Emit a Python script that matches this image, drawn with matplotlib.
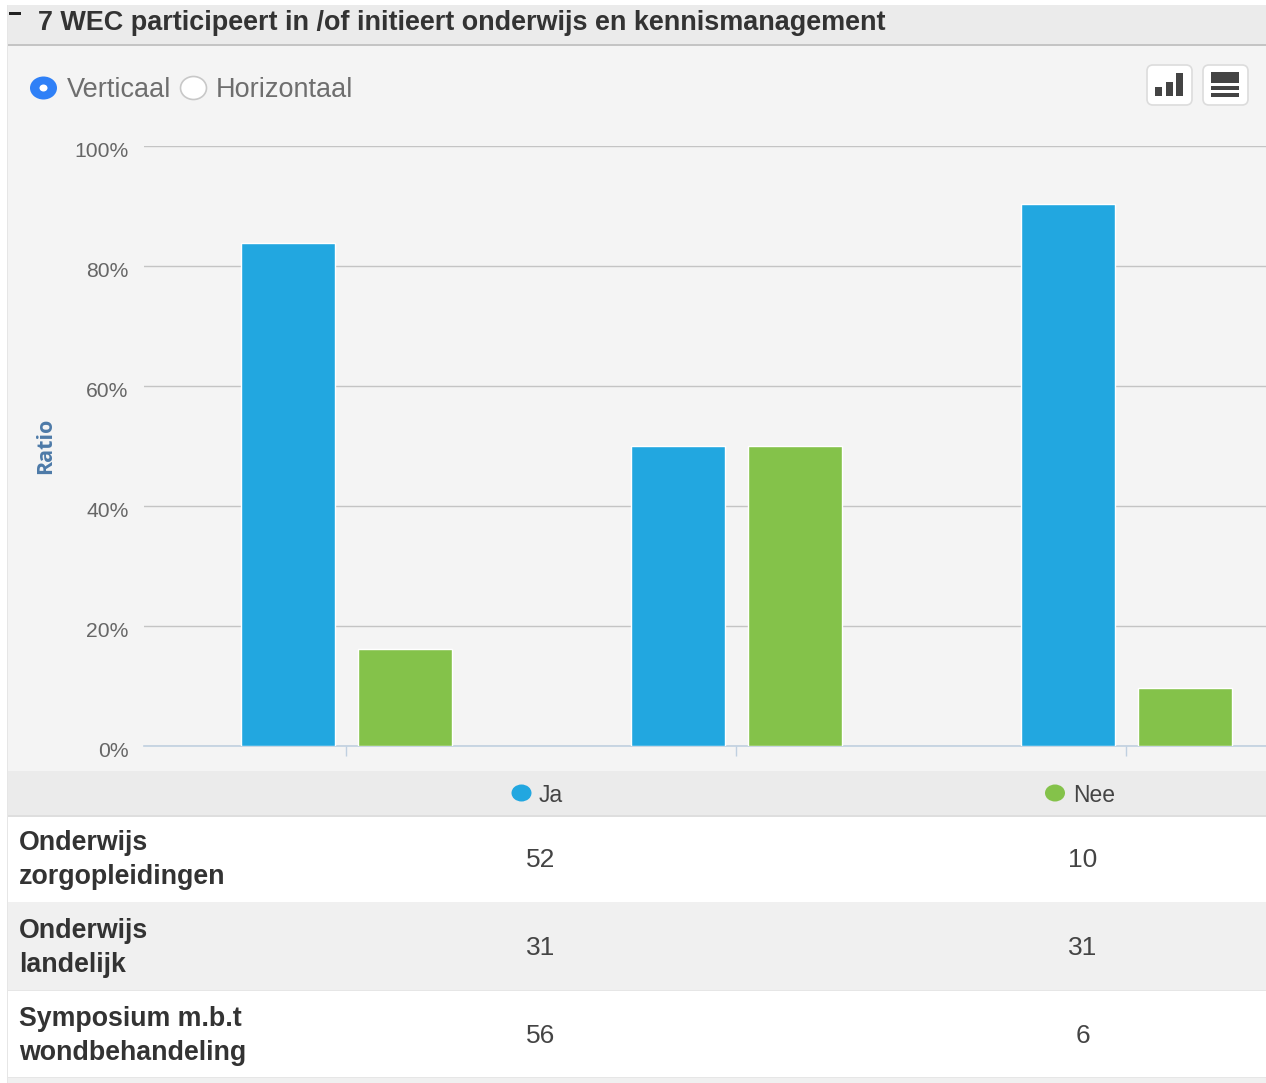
import numpy as np
import matplotlib
matplotlib.use("Agg")
import matplotlib.pyplot as plt
from matplotlib.patches import Rectangle, FancyBboxPatch, Ellipse
from matplotlib.transforms import ScaledTranslation

W = 1266
H = 1083

# Data
categories = ["Onderwijs\nzorgopleidingen", "Onderwijs\nlandelijk", "Symposium m.b.t\nwondbehandeling"]
ja = np.array([52, 31, 56])
nee = np.array([10, 31, 6])
ytick_values = [0, 20, 40, 60, 80, 100]
title = "7 WEC participeert in /of initieert onderwijs en kennismanagement"

plt.rcParams["font.family"] = ["Liberation Sans", "DejaVu Sans"]

fig = plt.figure(figsize=(W / 100, H / 100), dpi=100, facecolor="white")

# Background axes in pixels, for the page around the chart
bg = fig.add_axes([0, 0, 1, 1], zorder=0)
bg.set_xlim(0, W)
bg.set_ylim(H, 0)
bg.axis("off")


def box(x0, y0, x1, y1, color):
    bg.add_patch(Rectangle((x0, y0), x1 - x0, y1 - y0, fc=color, ec="none"))


box(7, 5, W, 1083, "#e6e6e6")
box(8, 45, W, 771, "#f4f4f4")
box(8, 5, W, 45, "#ebebeb")
box(8, 44, W, 46, "#c4c4c4")
box(8, 771, W, 815, "#ebebeb")
box(8, 815, W, 817, "#dedede")
box(8, 817, W, 902, "white")
box(8, 902, W, 990, "#f0f0f0")
box(8, 991, W, 1077, "white")
box(8, 1078, W, H, "#f0f0f0")
box(9, 12, 21, 15, "#222222")

bg.text(38, 23.5, title, fontsize=19.46, fontweight="bold", color="#333333", va="center")

# Radio buttons
bg.add_patch(Ellipse((43.5, 88), 27, 23, fc="#2f80f7", ec="none"))
bg.add_patch(Ellipse((43.5, 88), 8, 7, fc="white", ec="none"))
bg.add_patch(Ellipse((193.5, 88), 26, 23, fc="white", ec="#c8c8c8", lw=1.2))
bg.text(67, 90, "Verticaal", fontsize=19.5, color="#6e6e6e", va="center")
bg.text(216, 90, "Horizontaal", fontsize=19.5, color="#6e6e6e", va="center")

# Icon buttons
for x0 in [1147, 1203]:
    bg.add_patch(FancyBboxPatch((x0 + 3, 68), 39, 34, boxstyle="round,pad=3,rounding_size=6",
                                fc="white", ec="#dcdcdc", lw=1.2))
for x0, y0 in [(1155, 87), (1166, 82), (1176, 73)]:
    box(x0, y0, x0 + 7, 96, "#444444")
box(1211, 72, 1239, 83, "#444444")
box(1211, 86, 1239, 90, "#444444")
box(1211, 93, 1239, 97, "#444444")

# Legend band and table
bg.add_patch(Ellipse((521.5, 793), 20, 17, fc="#22a7e0", ec="none"))
bg.add_patch(Ellipse((1055, 793), 20, 17, fc="#84c24a", ec="none"))
bg.text(539, 795, "Ja", fontsize=16.5, color="#444444", va="center")
bg.text(1073, 795, "Nee", fontsize=16.5, color="#444444", va="center")

row_tops = [859, 947, 1035]
for y, cat, a, b in zip(row_tops, categories, ja, nee):
    first, second = cat.split("\n")
    bg.text(19, y - 16, first, fontsize=19.3, fontweight="bold", color="#333333", va="center")
    bg.text(19, y + 18, second, fontsize=19.3, fontweight="bold", color="#333333", va="center")
    bg.text(541, y + 1, str(a), fontsize=19, color="#444444", va="center", ha="center")
    bg.text(1083, y + 1, str(b), fontsize=19, color="#444444", va="center", ha="center")

# Chart axes
ax = fig.add_axes([144 / W, 1 - 746 / H, (W - 144) / W, 600 / H], zorder=1)
ax.patch.set_alpha(0)

band = 390.0
x = np.arange(len(categories))
bar_w = 94 / band
offset = 58.5 / band
total = ja + nee

ax.bar(x - offset, ja / total * 100, bar_w, color="#22a7e0", edgecolor="white", linewidth=1, zorder=3)
ax.bar(x + offset, nee / total * 100, bar_w, color="#84c24a", edgecolor="white", linewidth=1, zorder=3)

ax.set_xlim((144 - 346) / band, (W - 346) / band)
ax.set_ylim(0, 100)
ax.set_yticks(ytick_values)
ax.set_yticklabels([f"{v}%" for v in ytick_values], fontsize=15.2, color="#666666", va="top")
ax.tick_params(axis="y", length=0, pad=11)
shift = ScaledTranslation(0, 4 / 100, fig.dpi_scale_trans)
for label in ax.get_yticklabels():
    label.set_transform(label.get_transform() + shift)
ax.set_xticks(x)
ax.set_xticklabels([])
ax.tick_params(axis="x", length=7, color="#c0d0e0", width=1)
ax.grid(axis="y", color="#c4c4c4", linewidth=1.0, zorder=0)
ax.set_axisbelow(True)
for s in ["top", "right", "left"]:
    ax.spines[s].set_visible(False)
ax.spines["bottom"].set_color("#c0d0e0")
ax.spines["bottom"].set_linewidth(1.2)

bg.text(46, 446, "Ratio", fontsize=15.5, fontweight="bold", color="#4d7aa8", rotation=90,
        va="center", ha="center", family=["Open Sans", "DejaVu Sans"])

fig.savefig("out.png", dpi=100)
